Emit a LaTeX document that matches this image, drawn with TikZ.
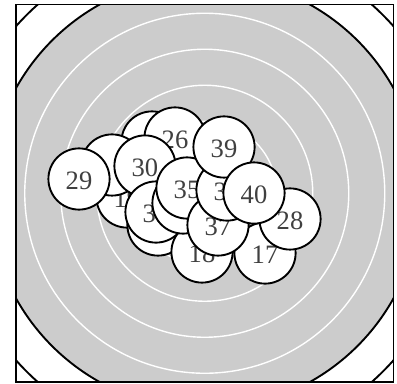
\documentclass[tikz,border=0pt]{standalone}
\usepackage{fontspec}
\setmainfont{Liberation Serif}
\usepackage{xcolor}

\definecolor{ringgray}{HTML}{CCCCCC}
\definecolor{labelgray}{HTML}{404040}

\tikzset{
  shot/.style={circle, draw=black, line width=1.5pt, fill=white, minimum size=1.7cm, inner sep=0pt,
    text=labelgray, font=\fontsize{21}{21}\selectfont, text height=17pt, text depth=0pt},
  ring/.style={draw=white, line width=1.1pt}
}

\begin{document}
\begin{tikzpicture}

    \useasboundingbox (-5.6875,-5.271) rectangle (5.34,5.368);

    % --- TARGET ---
    \begin{scope}
        \clip (-5.243,-5.243) rectangle (5.243,5.243);
        \fill[white] (-5.243,-5.243) rectangle (5.243,5.243);
        \draw[line width=1.5pt] (0,0) circle (7);
        \draw[line width=1.5pt, fill=ringgray] (0,0) circle (6);
        \draw[ring] (0,0) circle (5);
        \draw[ring] (0,0) circle (4);
        \draw[ring] (0,0) circle (3);
        \draw[ring] (0,0) circle (2);
        \draw[ring] (0,0) circle (1);
    \end{scope}
    \draw[line width=1.5pt] (-5.243,-5.243) rectangle (5.243,5.243);

    % --- SHOTS (bottom to top, hidden ones unlabelled) ---
    \node[shot] (s24) at (-1.465, 1.424) {};
    \node[shot] (s19) at (-2.16, -0.104) {19};
    \node[shot] (s21) at (-2.576, 0.785) {};
    \node[shot] (s22) at (-1.299, -0.882) {};
    \node[shot] (s18) at (-0.076, -1.632) {18};
    \node[shot] (s17) at (1.674, -1.66) {17};
    \node[shot] (s28) at (2.368, -0.715) {28};
    \node[shot] (s26) at (-0.826, 1.535) {26};
    \node[shot] (s29) at (-3.493, 0.396) {29};
    \node[shot] (s30) at (-1.66, 0.757) {30};
    \node[shot] (s33) at (-1.354, -0.521) {33};
    \node[shot] (s31) at (-0.604, -0.271) {};
    \node[shot] (s35) at (-0.493, 0.146) {35};
    \node[shot] (s37) at (0.368, -0.882) {37};
    \node[shot] (s38) at (0.618, 0.09) {38};
    \node[shot] (s39) at (0.535, 1.285) {39};
    \node[shot] (s40) at (1.368, 0.007) {40};

\end{tikzpicture}
\end{document}
